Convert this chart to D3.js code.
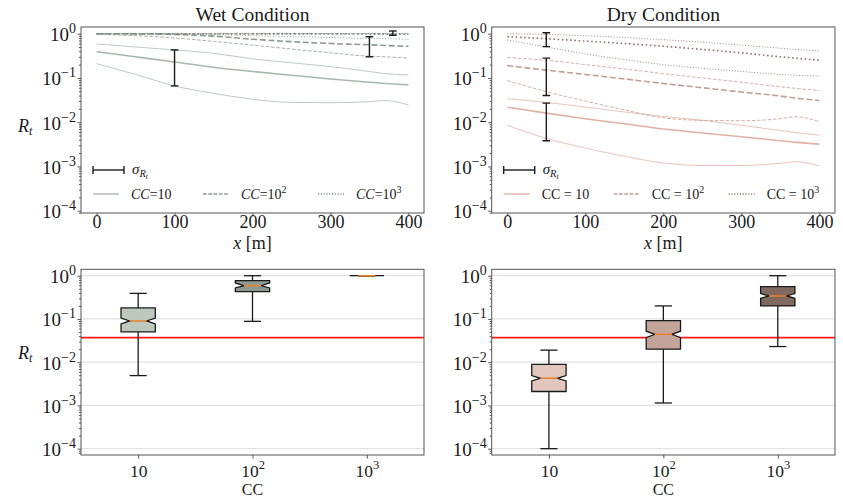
<!DOCTYPE html>
<html>
<head>
<meta charset="utf-8">
<script src="https://cdn.jsdelivr.net/npm/d3@7"></script>
<style>
  body { margin: 0; background: #fff; }
  svg { display: block; }
  text { font-family: "Liberation Serif", "Times New Roman", serif; fill: #1a1a1a; }
</style>
</head>
<body>
<svg id="fig" width="843" height="498"></svg>
<script>
// ---- data -------------------------------------------------------------
// distance along the transect [m]
const xPos = [0, 50, 100, 150, 200, 250, 300, 350, 370, 400];

// Wet condition, R_t envelopes (lower / mean / upper) per clogging coefficient
const wet10Lo   = [0.21, 0.12, 0.066, 0.045, 0.033, 0.028, 0.0275, 0.029, 0.031, 0.0245];
const wet10Mean = [0.39, 0.30, 0.23, 0.175, 0.14, 0.115, 0.095, 0.08, 0.075, 0.07];
const wet10Hi   = [0.585, 0.50, 0.43, 0.36, 0.27, 0.22, 0.18, 0.14, 0.125, 0.117];
const wet100Lo   = [0.97, 0.90, 0.80, 0.67, 0.55, 0.45, 0.37, 0.31, 0.30, 0.28];
const wet100Mean = [1.0, 0.99, 0.96, 0.88, 0.75, 0.66, 0.60, 0.56, 0.54, 0.52];
const wet100Hi   = [1.0, 1.0, 1.0, 1.0, 1.0, 1.0, 1.0, 1.0, 0.995, 0.99];
const wet1000Lo   = [1.0, 0.99, 0.97, 0.94, 0.90, 0.86, 0.82, 0.78, 0.77, 0.75];
const wet1000Mean = [1.0, 1.0, 1.0, 0.995, 0.99, 0.99, 0.985, 0.98, 0.975, 0.97];
const wet1000Hi   = [1.0, 1.0, 1.0, 1.0, 1.0, 1.0, 1.0, 1.0, 1.0, 1.0];

// Dry condition
const dry10Lo   = [0.0085, 0.0043, 0.0026, 0.0017, 0.0012, 0.00105, 0.00105, 0.00118, 0.00128, 0.00102];
const dry10Mean = [0.0218, 0.016, 0.012, 0.0092, 0.0070, 0.0057, 0.0047, 0.0038, 0.0035, 0.0032];
const dry10Hi   = [0.034, 0.028, 0.022, 0.017, 0.0135, 0.011, 0.0085, 0.0065, 0.0058, 0.0051];
const dry100Lo   = [0.087, 0.049, 0.030, 0.019, 0.0125, 0.011, 0.0108, 0.012, 0.0133, 0.0102];
const dry100Mean = [0.19, 0.15, 0.12, 0.095, 0.075, 0.060, 0.048, 0.039, 0.035, 0.031];
const dry100Hi   = [0.29, 0.25, 0.20, 0.16, 0.125, 0.10, 0.08, 0.063, 0.058, 0.052];
const dry1000Lo   = [0.72, 0.50, 0.35, 0.26, 0.20, 0.165, 0.14, 0.12, 0.115, 0.11];
const dry1000Mean = [0.86, 0.77, 0.68, 0.60, 0.52, 0.44, 0.37, 0.30, 0.28, 0.25];
const dry1000Hi   = [1.0, 0.96, 0.90, 0.82, 0.73, 0.64, 0.55, 0.47, 0.44, 0.41];

// standard deviation bars (position, lower, upper)
const wetErrX  = [100, 350, 380];
const wetErrLo = [0.066, 0.30, 0.92];
const wetErrHi = [0.43, 0.855, 1.15];
const dryErrX  = [50, 50, 50];
const dryErrLo = [0.0038, 0.04, 0.51];
const dryErrHi = [0.027, 0.28, 1.05];

// box statistics per CC (10, 10^2, 10^3)
const ccExps = [1, 2, 3];
const wetWhisLo  = [0.0049, 0.088, 1.0];
const wetQ1      = [0.050, 0.43, 1.0];
const wetMed     = [0.0897, 0.59, 1.0];
const wetQ3      = [0.18, 0.77, 1.0];
const wetWhisHi  = [0.39, 1.0, 1.0];
const wetNotchLo = [0.077, 0.52, 1.0];
const wetNotchHi = [0.105, 0.68, 1.0];
const dryWhisLo  = [0.0001, 0.00114, 0.023];
const dryQ1      = [0.0021, 0.020, 0.20];
const dryMed     = [0.00425, 0.044, 0.34];
const dryQ3      = [0.0089, 0.091, 0.557];
const dryWhisHi  = [0.019, 0.20, 1.0];
const dryNotchLo = [0.0037, 0.037, 0.30];
const dryNotchHi = [0.0049, 0.052, 0.385];

// reference threshold
const threshold = 0.037;

// tick values
const xTicks = [0, 100, 200, 300, 400];
const yExps = [0, -1, -2, -3, -4];

// ---- styling ----------------------------------------------------------
const wetLine = ["#a9b8ad", "#8e9b92", "#7b8780"];
const dryLine = ["#e0b0a5", "#c39d91", "#8d7269"];
const wetFill = ["#bdc8bf", "#8d9a91", "#5f6b63"];
const dryFill = ["#e3c6bd", "#c3a499", "#806960"];
const dashes = [null, "3.7,1.6", "1.1,1.7"];
const dashesThick = [null, "6,2.6", "1.6,2.6"];

const svg = d3.select("#fig");
const frameColor = "#555";
const serif = "Liberation Serif";

const topPanels = [
  {left: 81, right: 424, top: 27, bottom: 213},
  {left: 491.7, right: 835, top: 27, bottom: 213}
];
const botPanels = [
  {left: 81, right: 424, top: 269.3, bottom: 455},
  {left: 491.7, right: 835, top: 269.3, bottom: 455}
];

function supLabel(sel, base, exp, size, supSize) {
  sel.text(null);
  sel.append("tspan").text(base);
  if (exp !== null) {
    sel.append("tspan").attr("dy", -size * 0.42).attr("font-size", supSize)
      .text(exp < 0 ? "\u2212" + (-exp) : String(exp));
  }
}

function minorValues(lo, hi) {
  const out = [];
  for (let e = -6; e <= 1; e++) {
    for (let k = 2; k <= 9; k++) {
      const v = k * Math.pow(10, e);
      if (v >= lo && v <= hi) out.push(v);
    }
  }
  return out;
}

function yAxisLog(g, y, p) {
  const dom = y.domain();
  const ax = g.append("g").attr("transform", `translate(${p.left},0)`);
  ax.call(d3.axisLeft(y).tickValues(minorValues(dom[0], dom[1])).tickSize(2).tickFormat(""))
    .call(s => s.select(".domain").remove());
  const maj = g.append("g").attr("transform", `translate(${p.left},0)`);
  maj.call(d3.axisLeft(y).tickValues(yExps.map(e => Math.pow(10, e))).tickSize(3.5).tickPadding(1.5))
    .call(s => s.select(".domain").remove());
  maj.selectAll(".tick text")
    .attr("font-size", 19).attr("font-family", serif).attr("dy", "0.36em")
    .each(function(d) { supLabel(d3.select(this), "10", Math.round(Math.log10(d)), 19, 14); });
  g.selectAll(".tick line").attr("stroke", frameColor);
}

function frame(g, p) {
  g.append("rect").attr("x", p.left).attr("y", p.top)
    .attr("width", p.right - p.left).attr("height", p.bottom - p.top)
    .attr("fill", "none").attr("stroke", frameColor).attr("stroke-width", 1);
}

// ---- top row: R_t along x --------------------------------------------
function linePanel(idx, title, series, colors, errX, errLo, errHi, italicLegend) {
  const p = topPanels[idx];
  const g = svg.append("g");
  const x = d3.scaleLinear().domain([-20, 420]).range([p.left, p.right]);
  const y = d3.scaleLog().domain([Math.pow(10, -4.052), Math.pow(10, 0.151)]).range([p.bottom, p.top]);
  const clipId = "clip" + idx;
  g.append("clipPath").attr("id", clipId).append("rect")
    .attr("x", p.left).attr("y", p.top).attr("width", p.right - p.left).attr("height", p.bottom - p.top);
  const plot = g.append("g").attr("clip-path", `url(#${clipId})`);
  const line = d3.line().x((d, i) => x(xPos[i])).y(d => y(d)).curve(d3.curveMonotoneX);

  series.forEach((s, ci) => {
    [s.lo, s.hi].forEach(arr => {
      plot.append("path").attr("d", line(arr)).attr("fill", "none")
        .attr("stroke", colors[ci]).attr("stroke-width", 0.9).attr("opacity", 0.85)
        .attr("stroke-dasharray", dashes[ci]);
    });
    plot.append("path").attr("d", line(s.mean)).attr("fill", "none")
      .attr("stroke", colors[ci]).attr("stroke-width", 1.6)
      .attr("stroke-dasharray", dashesThick[ci]);
  });

  errX.forEach((xv, i) => {
    const cx = x(xv), y0 = y(errLo[i]), y1 = y(errHi[i]);
    const eg = plot.append("g").attr("stroke", "#1a1a1a").attr("stroke-width", 1.4);
    eg.append("line").attr("x1", cx).attr("x2", cx).attr("y1", y0).attr("y2", y1);
    eg.append("line").attr("x1", cx - 3.8).attr("x2", cx + 3.8).attr("y1", y0).attr("y2", y0);
    eg.append("line").attr("x1", cx - 3.8).attr("x2", cx + 3.8).attr("y1", y1).attr("y2", y1);
  });

  const xa = g.append("g").attr("transform", `translate(0,${p.bottom})`)
    .call(d3.axisBottom(x).tickValues(xTicks).tickSize(3.5))
    .call(s => s.select(".domain").remove());
  xa.selectAll("text").attr("font-size", 18).attr("font-family", serif).attr("y", 15).attr("dy", 0);
  xa.selectAll(".tick line").attr("stroke", frameColor);
  yAxisLog(g, y, p);
  frame(g, p);

  const cx = (p.left + p.right) / 2;
  g.append("text").attr("x", cx).attr("y", 21).attr("text-anchor", "middle")
    .attr("font-size", 19.5).text(title);
  const xl = g.append("text").attr("x", cx).attr("y", 249).attr("text-anchor", "middle").attr("font-size", 18);
  xl.append("tspan").attr("font-style", "italic").text("x");
  xl.append("tspan").text(" [m]");

  // legend
  const lx = p.left + 12;
  const lg = g.append("g");
  const eg = lg.append("g").attr("stroke", "#1a1a1a").attr("stroke-width", 1.4);
  eg.append("line").attr("x1", lx).attr("x2", lx + 31).attr("y1", 170).attr("y2", 170);
  eg.append("line").attr("x1", lx).attr("x2", lx).attr("y1", 166).attr("y2", 174);
  eg.append("line").attr("x1", lx + 31).attr("x2", lx + 31).attr("y1", 166).attr("y2", 174);
  const st = lg.append("text").attr("x", lx + 39).attr("y", 174).attr("font-size", 15);
  st.append("tspan").attr("font-style", "italic").text("\u03c3");
  st.append("tspan").attr("font-style", "italic").attr("font-size", 10.5).attr("dy", 3).text("R");
  st.append("tspan").attr("font-style", "italic").attr("font-size", 7.5).attr("dy", 1.5).text("t");

  const offs = [0, 110, 225];
  ccExps.forEach((e, ci) => {
    const x0 = lx + offs[ci];
    lg.append("line").attr("x1", x0).attr("x2", x0 + 26).attr("y1", 194).attr("y2", 194)
      .attr("stroke", colors[ci]).attr("stroke-width", 1.4).attr("stroke-dasharray", dashes[ci]);
    const t = lg.append("text").attr("x", x0 + 38).attr("y", 199).attr("font-size", 14);
    if (italicLegend) {
      t.append("tspan").attr("font-style", "italic").text("CC");
      t.append("tspan").text("=10");
    } else {
      t.append("tspan").text("CC = 10");
    }
    if (e > 1) t.append("tspan").attr("dy", -6).attr("font-size", 10).text(e);
  });

  if (idx === 0) {
    const rl = g.append("text").attr("x", 18).attr("y", 132).attr("font-size", 18).attr("font-style", "italic");
    rl.append("tspan").text("R");
    rl.append("tspan").attr("font-size", 12).attr("dy", 3).text("t");
  }
}

linePanel(0, "Wet Condition",
  [{lo: wet10Lo, mean: wet10Mean, hi: wet10Hi},
   {lo: wet100Lo, mean: wet100Mean, hi: wet100Hi},
   {lo: wet1000Lo, mean: wet1000Mean, hi: wet1000Hi}],
  wetLine, wetErrX, wetErrLo, wetErrHi, true);
linePanel(1, "Dry Condition",
  [{lo: dry10Lo, mean: dry10Mean, hi: dry10Hi},
   {lo: dry100Lo, mean: dry100Mean, hi: dry100Hi},
   {lo: dry1000Lo, mean: dry1000Mean, hi: dry1000Hi}],
  dryLine, dryErrX, dryErrLo, dryErrHi, false);

// ---- bottom row: notched box plots per CC -----------------------------
function boxPanel(idx, st, fills) {
  const p = botPanels[idx];
  const g = svg.append("g");
  const x = d3.scaleLinear().domain([0.5, 3.5]).range([p.left, p.right]);
  const y = d3.scaleLog().domain([Math.pow(10, -4.146), Math.pow(10, 0.148)]).range([p.bottom, p.top]);

  // horizontal grid at decades
  g.append("g").selectAll("line").data(yExps.map(e => Math.pow(10, e))).join("line")
    .attr("x1", p.left).attr("x2", p.right).attr("y1", d => y(d)).attr("y2", d => y(d))
    .attr("stroke", "#e2e2e2").attr("stroke-width", 1.2);

  g.append("line").attr("x1", p.left).attr("x2", p.right)
    .attr("y1", y(threshold)).attr("y2", y(threshold))
    .attr("stroke", "#ff1a1a").attr("stroke-width", 1.6);

  const hw = (x(1.15) - x(1)), qw = hw / 2;
  ccExps.forEach((e, i) => {
    const cx = x(i + 1);
    const bg = g.append("g");
    const line = (x1, x2, y1, y2) => bg.append("line").attr("x1", x1).attr("x2", x2)
      .attr("y1", y1).attr("y2", y2).attr("stroke", "#1a1a1a").attr("stroke-width", 1.3);
    line(cx, cx, y(st.q3[i]), y(st.whisHi[i]));
    line(cx, cx, y(st.q1[i]), y(st.whisLo[i]));
    line(cx - qw, cx + qw, y(st.whisHi[i]), y(st.whisHi[i]));
    line(cx - qw, cx + qw, y(st.whisLo[i]), y(st.whisLo[i]));
    const pts = [
      [cx - hw, y(st.q1[i])], [cx + hw, y(st.q1[i])], [cx + hw, y(st.nlo[i])],
      [cx + qw, y(st.med[i])], [cx + hw, y(st.nhi[i])], [cx + hw, y(st.q3[i])],
      [cx - hw, y(st.q3[i])], [cx - hw, y(st.nhi[i])], [cx - qw, y(st.med[i])],
      [cx - hw, y(st.nlo[i])]
    ];
    bg.append("path").attr("d", d3.line()(pts) + "Z")
      .attr("fill", fills[i]).attr("stroke", "#1a1a1a").attr("stroke-width", 1.3);
    bg.append("line").attr("x1", cx - qw).attr("x2", cx + qw)
      .attr("y1", y(st.med[i])).attr("y2", y(st.med[i]))
      .attr("stroke", "#e8822c").attr("stroke-width", 1.5);
  });

  const xa = g.append("g").attr("transform", `translate(0,${p.bottom})`)
    .call(d3.axisBottom(x).tickValues(ccExps.map((e, i) => i + 1)).tickSize(3.5))
    .call(s => s.select(".domain").remove());
  xa.selectAll(".tick text").attr("font-size", 17.5).attr("font-family", serif).attr("y", 21.5).attr("dy", 0)
    .each(function(d, i) { supLabel(d3.select(this), "10", ccExps[i] > 1 ? ccExps[i] : null, 17.5, 12.5); });
  xa.selectAll(".tick line").attr("stroke", frameColor);
  yAxisLog(g, y, p);
  frame(g, p);

  g.append("text").attr("x", (p.left + p.right) / 2).attr("y", 494.8).attr("text-anchor", "middle")
    .attr("font-size", 16).text("CC");
  if (idx === 0) {
    const rl = g.append("text").attr("x", 18).attr("y", 359).attr("font-size", 18).attr("font-style", "italic");
    rl.append("tspan").text("R");
    rl.append("tspan").attr("font-size", 12).attr("dy", 3).text("t");
  }
}

boxPanel(0, {whisLo: wetWhisLo, q1: wetQ1, med: wetMed, q3: wetQ3, whisHi: wetWhisHi,
             nlo: wetNotchLo, nhi: wetNotchHi}, wetFill);
boxPanel(1, {whisLo: dryWhisLo, q1: dryQ1, med: dryMed, q3: dryQ3, whisHi: dryWhisHi,
             nlo: dryNotchLo, nhi: dryNotchHi}, dryFill);
</script>
</body>
</html>
